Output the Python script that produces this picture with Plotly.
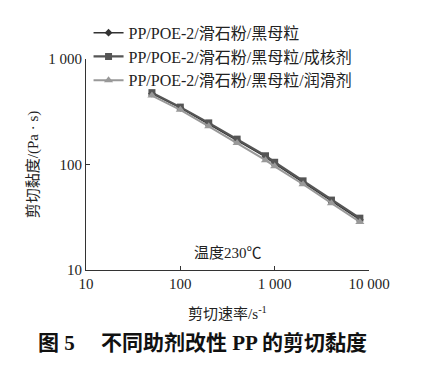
import plotly.graph_objects as go

shear_rate = [50, 100, 200, 400, 800, 1000, 2000, 4000, 8000]
visc_base = [470, 345, 242, 170, 118, 102, 68, 45, 30]
visc_nucleating = [480, 350, 248, 174, 121, 105, 70, 46, 31]
visc_lubricant = [450, 330, 230, 160, 110, 96, 65, 43, 28.5]
series_names = ["PP/POE-2/滑石粉/黑母粒", "PP/POE-2/滑石粉/黑母粒/成核剂", "PP/POE-2/滑石粉/黑母粒/润滑剂"]
x_ticks = [10, 100, 1000, 10000]
x_ticktext = ["10", "100", "1 000", "10 000"]
y_ticks = [10, 100, 1000]
y_ticktext = ["10", "100", "1 000"]

FONT = "Liberation Serif, Times New Roman, Noto Sans CJK SC, serif"
FS = 15

fig = go.Figure()
fig.add_trace(go.Scatter(x=shear_rate, y=visc_base, name=series_names[0], mode="lines+markers",
                         line=dict(color="#333333", width=1.5), marker=dict(symbol="diamond", size=6, color="#333333")))
fig.add_trace(go.Scatter(x=shear_rate, y=visc_nucleating, name=series_names[1], mode="lines+markers",
                         line=dict(color="#555555", width=2.2), marker=dict(symbol="square", size=7, color="#555555")))
fig.add_trace(go.Scatter(x=shear_rate, y=visc_lubricant, name=series_names[2], mode="lines+markers",
                         line=dict(color="#999999", width=2), marker=dict(symbol="triangle-up", size=8, color="#999999")))

fig.update_layout(
    width=422, height=374,
    margin=dict(l=86, r=53, t=59, b=104),
    paper_bgcolor="white", plot_bgcolor="white",
    font=dict(family=FONT, size=FS, color="#222222"),
    showlegend=True,
    legend=dict(x=0.009, y=1.205, xanchor="left", yanchor="top", traceorder="normal",
                bgcolor="rgba(0,0,0,0)", font=dict(size=16, family=FONT),
                itemwidth=30, tracegroupgap=0),
    xaxis=dict(type="log", range=[1, 4], tickvals=x_ticks, ticktext=x_ticktext, automargin=False,
               ticks="inside", ticklen=4, tickcolor="#333", showline=True, linecolor="#333",
               linewidth=1, showgrid=False, zeroline=False, mirror=False,
               tickfont=dict(size=FS, family=FONT),
               title=dict(text="剪切速率/s<sup>-1</sup>", font=dict(size=FS, family=FONT), standoff=17)),
    yaxis=dict(type="log", range=[1, 3], tickvals=y_ticks, ticktext=y_ticktext, automargin=False,
               ticks="inside", ticklen=4, tickcolor="#333", showline=True, linecolor="#333",
               linewidth=1, showgrid=False, zeroline=False, mirror=False,
               tickfont=dict(size=FS, family=FONT),
               title=dict(text="剪切黏度/(Pa · s)", font=dict(size=FS, family=FONT), standoff=6)),
)

fig.add_annotation(x=0.503, y=0.08, xref="paper", yref="paper", text="温度230℃", showarrow=False,
                   font=dict(size=FS, family=FONT), xanchor="center", yanchor="middle")
fig.add_annotation(x=0.412, y=-0.346, xref="paper", yref="paper",
                   text="<b>图 5　 不同助剂改性 PP 的剪切黏度</b>", showarrow=False,
                   font=dict(size=21, family=FONT, color="#111"), xanchor="center", yanchor="middle")

fig.write_html("out.html", config={"displayModeBar": False},
               post_script="document.body.style.margin='0px';")
